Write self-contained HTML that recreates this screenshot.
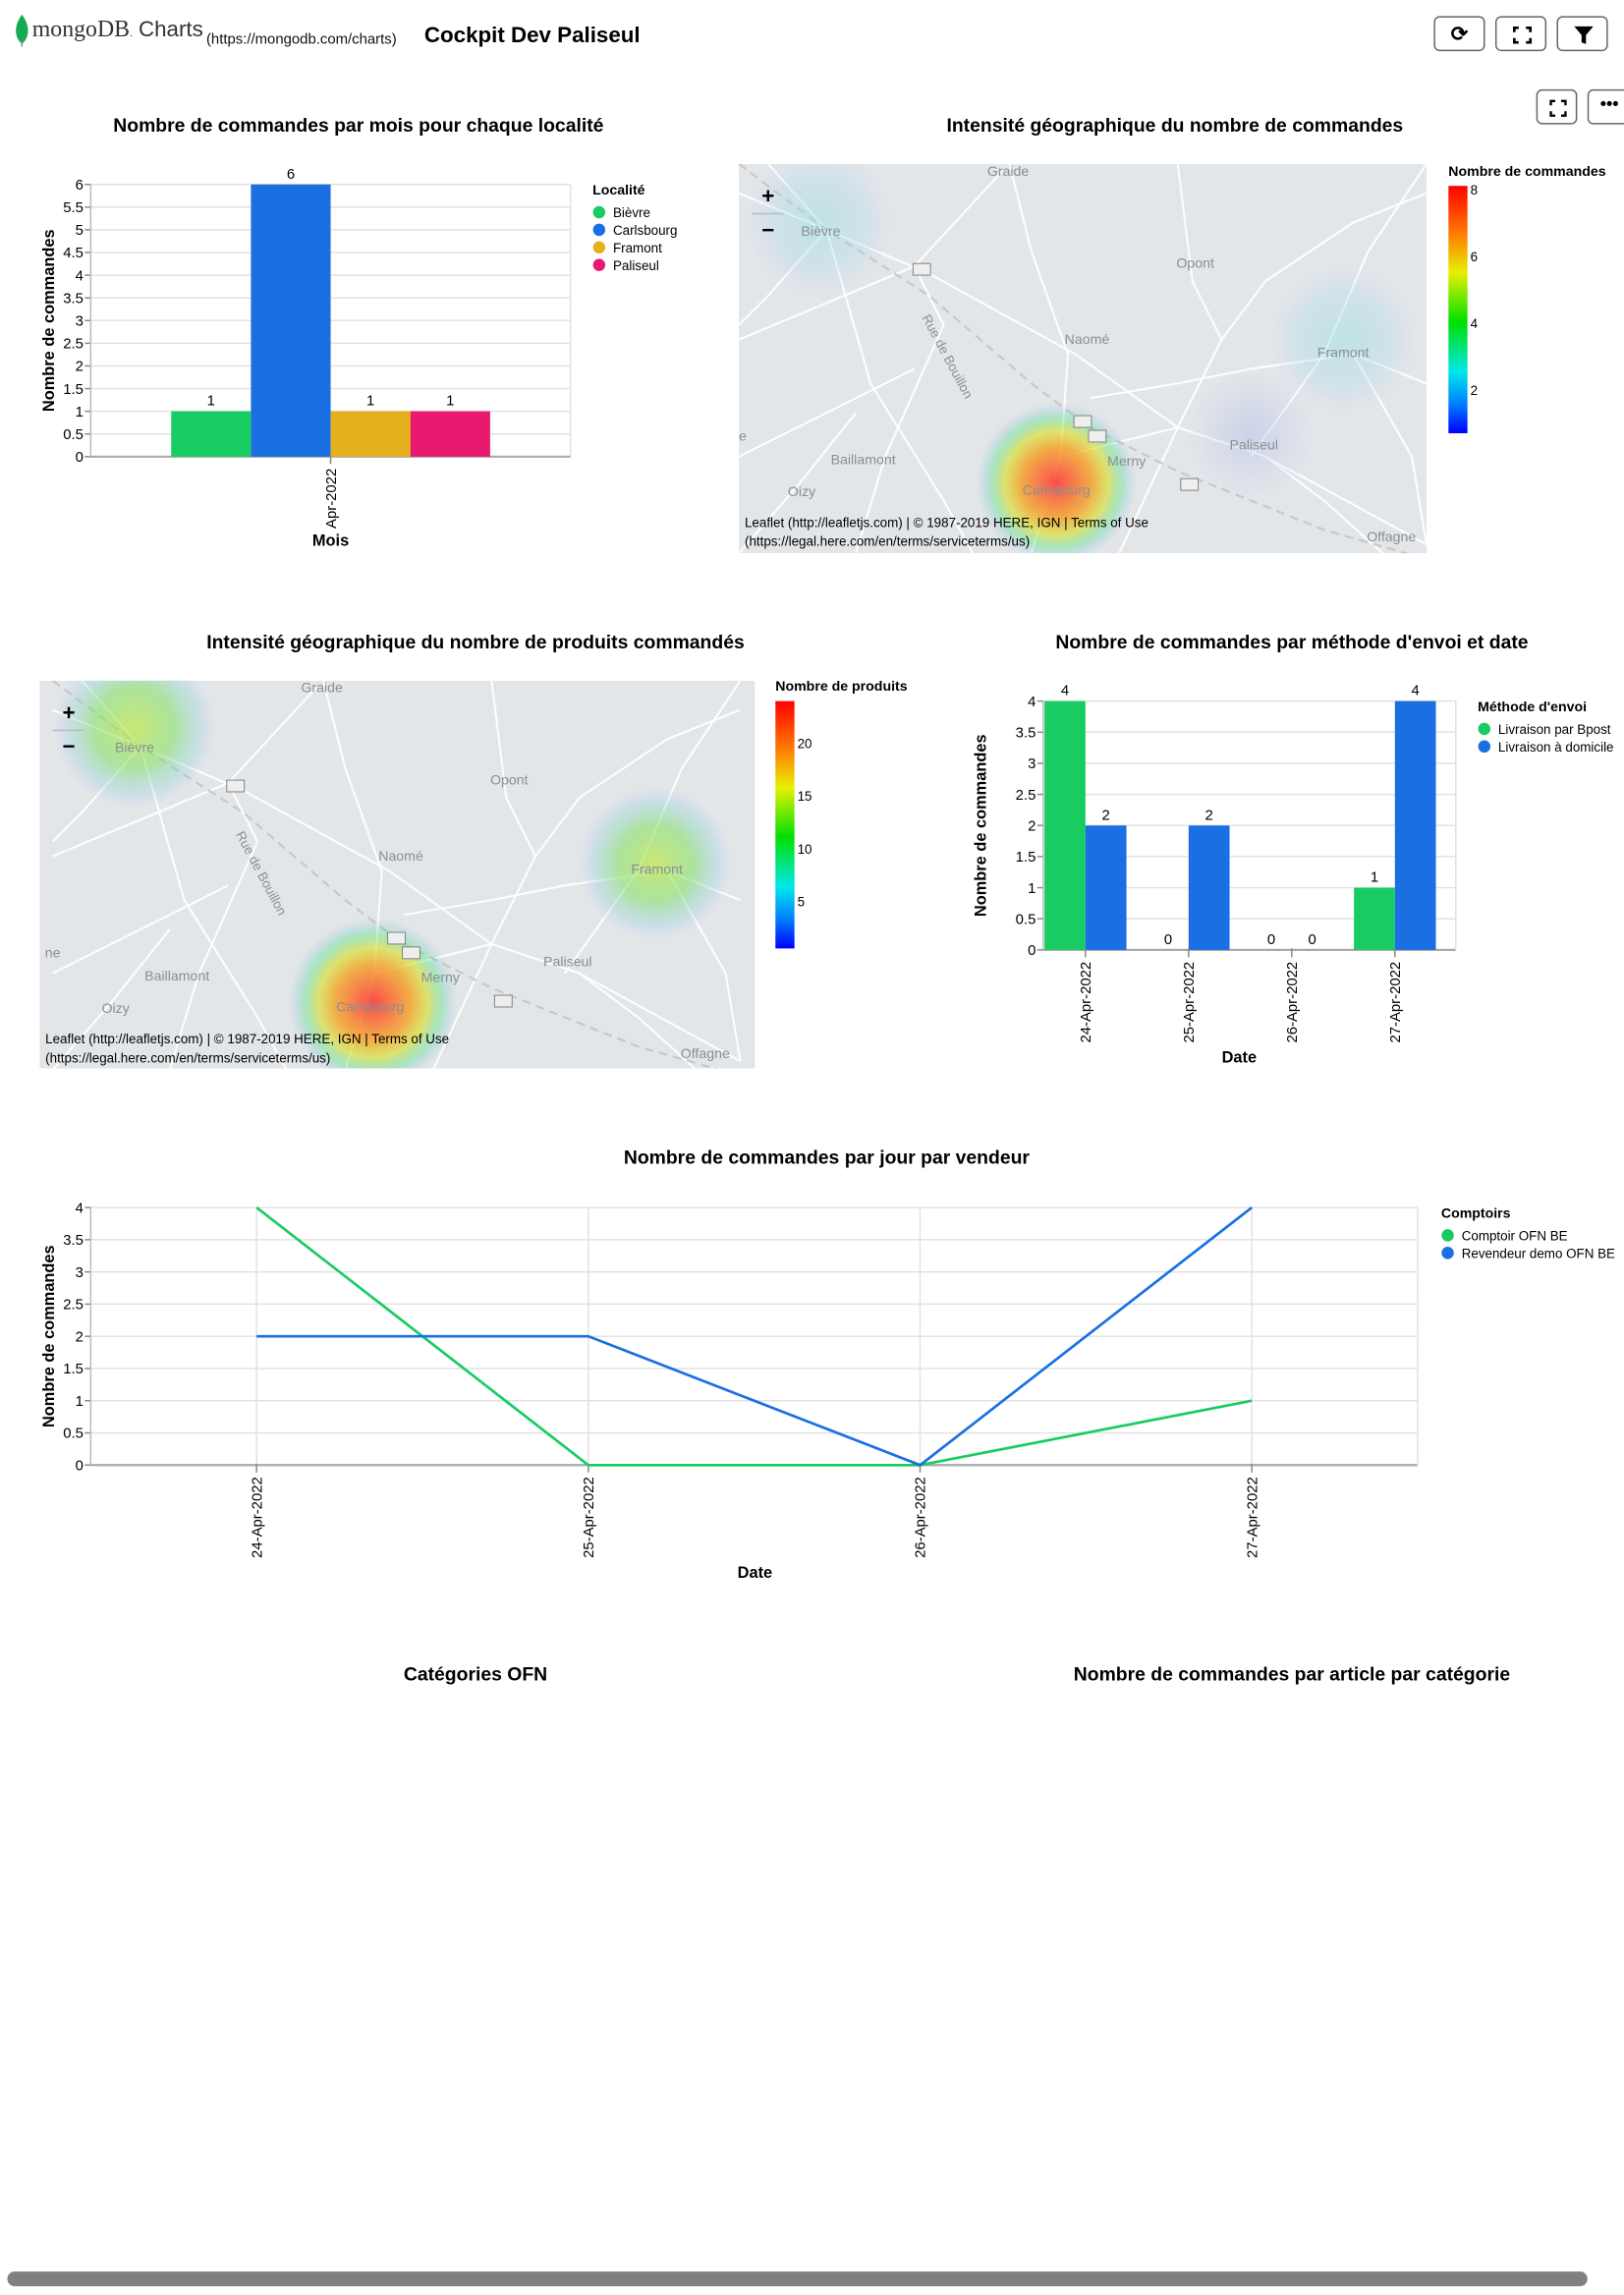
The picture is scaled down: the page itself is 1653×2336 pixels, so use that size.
<!DOCTYPE html>
<html><head><meta charset="utf-8">
<style>
html,body{margin:0;padding:0;background:#fff;overflow:hidden;width:1653px;height:2336px}
#root{position:absolute;left:0;top:0;width:1110px;height:1568px;transform:scale(1.4892,1.4898);transform-origin:0 0;font-family:"Liberation Sans",sans-serif;color:#000}
.abs{position:absolute}
.title{position:absolute;font-weight:bold;font-size:13px;white-space:nowrap;transform:translateX(-50%)}
.btn{position:absolute;border:1px solid #666;border-radius:4px;background:#fff;box-sizing:border-box}
svg text{font-family:"Liberation Sans",sans-serif}
</style></head><body>
<div id="root">
<div class="abs" style="left:0;top:0;width:1110px;height:50px">
 <svg class="abs" style="left:9px;top:10px" width="14" height="22"><path d="M6 0 C0 8 1 16 6 20 C11 16 12 8 6 0Z" fill="#13aa52"/><rect x="5.5" y="18" width="1" height="4" fill="#888"/></svg>
 <span class="abs" style="left:22px;top:12px;font-family:'Liberation Serif',serif;font-size:16px;color:#333">mongoDB<span style="font-size:8px">.</span> <span style="font-family:'Liberation Sans',sans-serif;font-size:15px">Charts</span></span>
 <span class="abs" style="left:141px;top:22px;font-size:10px;color:#111">(https://mongodb.com/charts)</span>
 <span class="abs" style="left:290px;top:16px;font-size:15px;font-weight:bold">Cockpit Dev Paliseul</span>
 <div class="btn" style="left:980px;top:11px;width:35px;height:24px;text-align:center;font-size:14px;line-height:22px;font-weight:bold">⟳</div>
 <div class="btn" style="left:1022px;top:11px;width:35px;height:24px"><svg width="35" height="24"><path d="M12 10V7h3M20 7h3v3M23 14v3h-3M15 17h-3v-3" stroke="#000" stroke-width="1.8" fill="none"/></svg></div>
 <div class="btn" style="left:1064px;top:11px;width:35px;height:24px"><svg width="35" height="24"><path d="M11 6h13l-5 6v6l-3-1v-5z" fill="#000"/></svg></div>
</div>
<div class="btn" style="left:1050px;top:61px;width:28px;height:24px"><svg width="28" height="24"><path d="M9 10V7h3M16 7h3v3M19 14v3h-3M12 17h-3v-3" stroke="#000" stroke-width="1.6" fill="none"/></svg></div>
<div class="btn" style="left:1085px;top:61px;width:30px;height:24px;text-align:center;font-weight:bold;font-size:12px;line-height:18px">•••</div>

<div class="title" style="left:245px;top:78px">Nombre de commandes par mois pour chaque localité</div>
<div class="title" style="left:803px;top:78px">Intensité géographique du nombre de commandes</div>
<div class="title" style="left:325px;top:431px">Intensité géographique du nombre de produits commandés</div>
<div class="title" style="left:883px;top:431px">Nombre de commandes par méthode d'envoi et date</div>
<div class="title" style="left:565px;top:783px">Nombre de commandes par jour par vendeur</div>
<div class="title" style="left:325px;top:1136px">Catégories OFN</div>
<div class="title" style="left:883px;top:1136px">Nombre de commandes par article par catégorie</div>

<svg id="main" class="abs" style="left:0;top:0" width="1110" height="1568"></svg>
<div class="abs" style="left:5px;top:1552px;width:1080px;height:10px;border-radius:5px;background:#808080"></div>
</div>
<script>
// Chart 1 data
const c1Categories = ["Apr-2022"];
const c1Series = ["Bièvre","Carlsbourg","Framont","Paliseul"];
const c1Values = [1,6,1,1];
const c1Colors = ["#18cc62","#1a6fe3","#e6b01c","#e8196e"];
const c1Ticks = [0,0.5,1,1.5,2,2.5,3,3.5,4,4.5,5,5.5,6];
// Chart 4 data
const c4Categories = ["24-Apr-2022","25-Apr-2022","26-Apr-2022","27-Apr-2022"];
const c4Series = ["Livraison par Bpost","Livraison à domicile"];
const c4Bpost = [4,0,0,1];
const c4Domicile = [2,2,0,4];
const c4Ticks = [0,0.5,1,1.5,2,2.5,3,3.5,4];
// Chart 5 data
const c5Categories = ["24-Apr-2022","25-Apr-2022","26-Apr-2022","27-Apr-2022"];
const c5Series = ["Comptoir OFN BE","Revendeur demo OFN BE"];
const c5Comptoir = [4,0,0,1];
const c5Revendeur = [2,2,0,4];
const c5Ticks = [0,0.5,1,1.5,2,2.5,3,3.5,4];

const NS="http://www.w3.org/2000/svg";
const svg=document.getElementById('main');
function mk(tag,attrs,parent,text){const e=document.createElementNS(NS,tag);for(const k in attrs)e.setAttribute(k,attrs[k]);if(text!==undefined)e.textContent=text;(parent||svg).appendChild(e);return e;}

function yAxis(x0,x1,yTop,yBot,ticks,max,title,titleX,name){
  const sc=v=>yBot-(v/max)*(yBot-yTop);
  ticks.forEach(t=>{
    const l=mk('line',{x1:x0,x2:x1,y1:sc(t),y2:sc(t),stroke:t===0?'#aaa':'#e2e2e2','stroke-width':t===0?1.5:1});
    
    
    mk('line',{x1:x0-4,x2:x0,y1:sc(t),y2:sc(t),stroke:'#888'});
    const tx=mk('text',{x:x0-5,y:sc(t)+3.5,'font-size':10,'text-anchor':'end'},svg,String(t));
    
    
  });
  mk('line',{x1:x0,x2:x0,y1:yTop,y2:yBot,stroke:'#bbb'});
  mk('line',{x1:x1,x2:x1,y1:yTop,y2:yBot,stroke:'#e2e2e2'});
  const cy=(yTop+yBot)/2;
  const yt=mk('text',{x:titleX,y:cy,'font-size':11,'font-weight':'bold','text-anchor':'middle',transform:`rotate(-90 ${titleX} ${cy})`},svg,title);
  
  
  return sc;
}
function xLabel(x,y,t,name){
  mk('line',{x1:x,x2:x,y1:y-1,y2:y+5,stroke:'#888'});
  const e=mk('text',{x:x+3.5,y:y+8,'font-size':10,'text-anchor':'end',transform:`rotate(-90 ${x+3.5} ${y+8})`},svg,t);
  
  
}
function legend(x,y,title,items,colors,name){
  const t=mk('text',{x:x,y:y,'font-size':9.5,'font-weight':'bold'},svg,title);
  
  
  items.forEach((it,i)=>{
    const g=mk('g',{});
    
    
    mk('circle',{cx:x+4.5,cy:y+12+i*12,r:4.2,fill:colors[i]},g);
    mk('text',{x:x+14,y:y+15.5+i*12,'font-size':9},g,it);
  });
}

// Chart 1
(function(){
  const x0=62,x1=390,yT=126,yB=312,max=6;
  const sc=yAxis(x0,x1,yT,yB,c1Ticks,max,'Nombre de commandes',37,'chart1');
  const bw=54.5, cx=226, start=cx-bw*c1Values.length/2;
  c1Values.forEach((v,i)=>{
    const r=mk('rect',{x:start+i*bw,y:sc(v),width:bw,height:yB-sc(v),fill:c1Colors[i]});
    
    
    mk('text',{x:start+i*bw+bw/2,y:sc(v)-4,'font-size':10,'text-anchor':'middle'},svg,String(v));
  });
  c1Categories.forEach(c=>xLabel(cx,yB,c,'chart1'));
  const xt=mk('text',{x:cx,y:373,'font-size':11,'font-weight':'bold','text-anchor':'middle'},svg,'Mois');
  
  
  legend(405,133,'Localité',c1Series,c1Colors,'chart1');
})();

// Chart 4
(function(){
  const x0=713,x1=995,yT=479,yB=649,max=4;
  const sc=yAxis(x0,x1,yT,yB,c4Ticks,max,'Nombre de commandes',674,'chart4');
  const band=(x1-x0)/c4Categories.length, bw=28;
  const cols=["#18cc62","#1a6fe3"];
  c4Categories.forEach((c,i)=>{
    const cx=x0+band*(i+0.41);
    [c4Bpost[i],c4Domicile[i]].forEach((v,j)=>{
      const bx=cx-bw+j*bw;
      if(v>0){const r=mk('rect',{x:bx,y:sc(v),width:bw,height:yB-sc(v),fill:cols[j]});
        
        }
      mk('text',{x:bx+bw/2,y:sc(v)-4,'font-size':10,'text-anchor':'middle'},svg,String(v));
    });
    xLabel(cx,yB,c,'chart4');
  });
  const xt=mk('text',{x:847,y:726,'font-size':11,'font-weight':'bold','text-anchor':'middle'},svg,'Date');
  
  
  legend(1010,486,"Méthode d'envoi",c4Series,cols,'chart4');
})();

// Chart 5
(function(){
  const x0=62,x1=969,yT=825,yB=1001,max=4;
  const sc=yAxis(x0,x1,yT,yB,c5Ticks,max,'Nombre de commandes',37,'chart5');
  const band=(x1-x0)/c5Categories.length;
  const xs=c5Categories.map((c,i)=>x0+band*(i+0.5));
  xs.forEach((x,i)=>{mk('line',{x1:x,x2:x,y1:yT,y2:yB,stroke:'#e2e2e2'});xLabel(x,yB,c5Categories[i],'chart5');});
  const cols=["#18cc62","#1a6fe3"];
  [c5Comptoir,c5Revendeur].forEach((vals,j)=>{
    const p=mk('polyline',{points:vals.map((v,i)=>xs[i]+','+sc(v)).join(' '),fill:'none',stroke:cols[j],'stroke-width':1.8});
    
    
  });
  const xt=mk('text',{x:516,y:1078,'font-size':11,'font-weight':'bold','text-anchor':'middle'},svg,'Date');
  
  
  legend(985,832,'Comptoirs',c5Series,cols,'chart5');
})();

// Maps
function drawMap(X,Y,W,H,dx,blobs,name){
  const g=mk('g',{});
  
  
  const id=name+'clip';
  const cp=mk('clipPath',{id:id},g);mk('rect',{x:X,y:Y,width:W,height:H},cp);
  const inner=mk('g',{'clip-path':`url(#${id})`},g);
  mk('rect',{x:X,y:Y,width:W,height:H,fill:'#e3e6e9'},inner);
  const ox=X+dx, oy=Y;
  const roads=["M0,20 L60,45 L130,75 L230,130 L300,180 L360,200 L470,260",
  "M20,0 L60,45 L90,150 L140,230 L160,266","M0,120 L120,70 L180,5","M185,0 L200,60 L225,130 L220,200 L200,266",
  "M120,70 L140,110 L100,200 L80,266","M260,266 L300,180 L330,120 L360,80 L420,40 L470,20",
  "M240,160 L300,150 L350,140 L420,130 L470,150","M300,0 L310,80 L330,120","M350,200 L400,130 L430,60 L470,0",
  "M0,200 L60,170 L120,140","M360,200 L400,230 L440,266","M0,266 L40,220 L80,170","M420,130 L460,200 L470,260",
  "M220,200 L260,190 L300,180","M60,45 L20,90 L0,110"];
  roads.forEach(d=>mk('path',{d:d,transform:`translate(${ox},${oy})`,stroke:'#fff','stroke-width':1.4,fill:'none',opacity:0.9},inner));
  mk('path',{d:"M0,0 L60,45 L130,90 L200,150 L240,180 L300,210 L400,250 L470,270",transform:`translate(${ox},${oy})`,stroke:'#c8c8c8','stroke-width':1.5,'stroke-dasharray':'6 4',fill:'none'},inner);
  blobs.forEach((b,i)=>{
    const gid=name+'g'+i;
    const rg=mk('radialGradient',{id:gid},inner);
    b.stops.forEach(s=>mk('stop',{offset:s[0],'stop-color':s[1],'stop-opacity':s[2]},rg));
    mk('circle',{cx:ox+b.x,cy:oy+b.y,r:b.r,fill:`url(#${gid})`},inner);
  });
  const labels=[["Graide",184,8],["Bièvre",56,49],["Opont",312,71],["Naomé",238,123],["Framont",413,132],["Paliseul",352,195],["Baillamont",85,205],["Merny",265,206],["Carlsbourg",217,226],["Oizy",43,227],["Offagne",446,258],["ne",0,189]];
  labels.forEach(l=>mk('text',{x:ox+l[1],y:oy+l[2],'font-size':9.5,fill:'#8a8f95','text-anchor':'middle','font-family':'DejaVu Sans, sans-serif'},inner,l[0]));
  mk('text',{x:ox+125,y:oy+105,'font-size':9,fill:'#8a8f95',transform:`rotate(62 ${ox+125} ${oy+105})`,'font-family':'DejaVu Sans, sans-serif'},inner,'Rue de Bouillon');
  [[124,72],[244,186],[234,176],[307,219]].forEach(p=>{mk('rect',{x:ox+p[0]-5,y:oy+p[1]-4,width:12,height:8,fill:'#eee',stroke:'#777','stroke-width':0.6},inner);});
  const zi=mk('text',{x:X+20,y:Y+27,'font-size':15,'font-weight':'bold','text-anchor':'middle'},g,'+');
  
  mk('line',{x1:X+9,x2:X+31,y1:Y+34,y2:Y+34,stroke:'#bbb'},g);
  const zo=mk('text',{x:X+20,y:Y+50,'font-size':15,'font-weight':'bold','text-anchor':'middle'},g,'−');
  
  const at=mk('text',{x:X+4,y:Y+248,'font-size':9},g,'Leaflet (http://leafletjs.com) | © 1987-2019 HERE, IGN | Terms of Use');
  
  mk('text',{x:X+4,y:Y+261,'font-size':9},g,'(https://legal.here.com/en/terms/serviceterms/us)');
}
const hot=[[0,'#ff3030',0.85],[0.45,'#f5a020',0.8],[0.65,'#d8e020',0.6],[0.82,'#40e080',0.35],[1,'#80a0ff',0]];
const cyan=[[0,'#90e0e0',0.45],[0.6,'#a0d8e8',0.3],[1,'#b0c8f0',0]];
const blue=[[0,'#b0bce8',0.45],[1,'#b0bce8',0]];
const mid=[[0,'#c0e840',0.7],[0.5,'#80e060',0.55],[0.8,'#80d0d0',0.3],[1,'#a0b0ff',0]];
drawMap(505,112,470,266,0,[{x:55,y:40,r:50,stops:cyan},{x:413,y:120,r:50,stops:cyan},{x:350,y:185,r:45,stops:blue},{x:217,y:218,r:55,stops:hot}],'map-orders');
drawMap(27,465,489,265,9,[{x:56,y:32,r:55,stops:mid},{x:219,y:220,r:58,stops:hot},{x:412,y:125,r:52,stops:mid}],'map-products');

function colorBar(x,yT,yB,ticks,max,min,title,name){
  const gid=name+'grad';
  const lg=mk('linearGradient',{id:gid,x1:0,y1:0,x2:0,y2:1});
  [['0','#ff0000'],['0.2','#ff8000'],['0.35','#e8f000'],['0.55','#00e000'],['0.75','#00e8e8'],['0.88','#0080ff'],['1','#0000ff']].forEach(s=>mk('stop',{offset:s[0],'stop-color':s[1]},lg));
  const r=mk('rect',{x:x,y:yT,width:13,height:yB-yT,fill:`url(#${gid})`});
  
  mk('text',{x:x,y:yT-7,'font-size':9.5,'font-weight':'bold'},svg,title);
  ticks.forEach(t=>{const y=yB-(t-min)/(max-min)*(yB-yT);mk('text',{x:x+15,y:y+3.5,'font-size':9},svg,String(t));});
}
colorBar(990,127,296,[2,4,6,8],8.1,0.7,'Nombre de commandes','orders-color-legend');
colorBar(530,479,648,[5,10,15,20],24,0.5,'Nombre de produits','products-color-legend');
</script>
</body></html>
